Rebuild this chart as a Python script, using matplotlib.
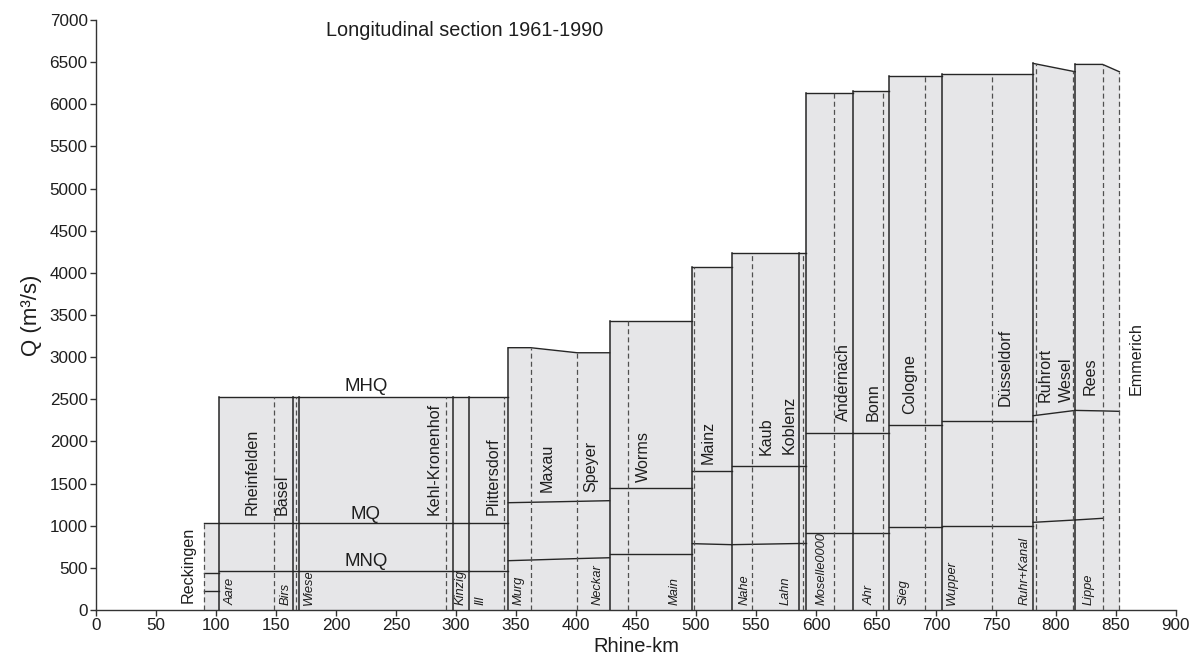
import numpy as np
import matplotlib
matplotlib.use('Agg')
import matplotlib.pyplot as plt

plt.rcParams['font.family'] = ['Liberation Sans', 'DejaVu Sans']

#------------------------ data: blocks between tributaries ------------------------
# Rhine-km breakpoints of each block and discharge (m3/s) read at those points
block_km = [[90, 102.2], [102.2, 164.4], [164.4, 169.4], [169.4, 297.2],
            [297.2, 310.8], [310.8, 343.6], [343.6, 362.2, 401, 428],
            [428, 497], [497, 529.7], [529.7, 586], [586, 592],
            [592, 630.6], [630.6, 660.8], [660.8, 705.2], [705.2, 781],
            [781, 816], [816, 838.9, 852.8]]
mhq = [[1036, 1036], [2530, 2530], [2530, 2530], [2530, 2530],
       [2530, 2530], [2530, 2530], [3112, 3112, 3052, 3052],
       [3432, 3432], [4069, 4069], [4235, 4235], [4235, 4235],
       [6134, 6134], [6155, 6155], [6340, 6340], [6363, 6363],
       [6485, 6386], [6473, 6473, 6386]]
mq = [[443, 443], [1036, 1036], [1036, 1036], [1036, 1036],
      [1036, 1036], [1036, 1036], [1273, 1278, 1289, 1297],
      [1443, 1443], [1649, 1649], [1712, 1712], [1712, 1712],
      [2105, 2105], [2105, 2105], [2200, 2200], [2243, 2243],
      [2305, 2368], [2368, 2362, 2357]]
mnq = [[222, 222], [466, 466], [466, 466], [466, 466],
       [466, 466], [466, 466], [585, 593, 610, 620],
       [668, 668], [787, 775], [775, 789], [789, 789],
       [913, 913], [913, 913], [979, 979], [995, 995],
       [1040, 1068], [1068, 1088, np.nan]]

# gauging stations (dashed lines) and their labels
gauge_km = [90, 148.6, 166.4, 291.7, 340.3, 362.2, 401, 443.3, 498.6, 546.9,
            589.5, 615, 656.1, 690.6, 746.7, 783.3, 814.2, 838.9, 852.8]
station_names = ['Reckingen', 'Rheinfelden', 'Basel', 'Kehl-Kronenhof', 'Plittersdorf',
                 'Maxau', 'Speyer', 'Worms', 'Mainz', 'Kaub', 'Koblenz', 'Andernach',
                 'Bonn', 'Cologne', 'Düsseldorf', 'Ruhrort', 'Wesel', 'Rees', 'Emmerich']
station_km = [76.5, 130, 155.3, 281.4, 331.1, 375.6, 412.2, 456.4, 510, 558.3, 578,
              622.8, 647.2, 678, 757.5, 790.8, 808.9, 828.3, 866.7]
station_q = [87, 1127, 1127, 1127, 1127, 1403, 1403, 1515, 1732, 1839, 1850,
             2242, 2242, 2330, 2425, 2472, 2472, 2554, 2554]

# tributaries
trib_names = ['Aare', 'Birs', 'Wiese', 'Kinzig', 'Ill', 'Murg', 'Neckar', 'Main',
              'Nahe', 'Lahn', 'Moselle0000', 'Ahr', 'Sieg', 'Wupper', 'Ruhr+Kanal', 'Lippe']
trib_km = [112, 157.8, 177.2, 303.9, 320.3, 352.5, 417.8, 482.2, 540.8, 574.4,
           604.4, 644.4, 672.8, 713.6, 774.2, 827.5]

#------------------------ plot ------------------------------
fill_c = '#e6e6e8'
line_c = '#262626'
dash_c = '#505050'
text_c = '#1e1e1e'

fig = plt.figure(figsize=(11.96, 6.58), dpi=100)
ax = fig.add_axes([96/1196, 48/658, 1080/1196, 590/658])

for k, h, m, n in zip(block_km, mhq, mq, mnq):
    ax.fill_between(k, 0, h, color=fill_c, lw=0, zorder=1)
    ax.plot(k, h, color=line_c, lw=1.0, zorder=3)
    ax.plot(k, m, color=line_c, lw=1.0, zorder=3)
    ax.plot(k, n, color=line_c, lw=1.0, zorder=3)

# solid lines where tributaries join
for i in range(len(block_km) - 1):
    x = block_km[i][-1]
    top = max(mhq[i][-1], mhq[i + 1][0])
    ax.plot([x, x], [0, top], color=line_c, lw=1.1, zorder=3)

# dashed gauge lines
km_all = np.concatenate(block_km)
mhq_all = np.concatenate(mhq)
for g in gauge_km:
    top = np.interp(g, km_all, mhq_all)
    ax.plot([g, g], [0, top], color=dash_c, lw=0.9, dashes=(4, 2.5), zorder=4)

for name, x, y in zip(station_names, station_km, station_q):
    ax.text(x, y, name, rotation=90, ha='center', va='bottom', fontsize=11.6,
            color=text_c, zorder=5)

for name, x in zip(trib_names, trib_km):
    ax.text(x, 55, name, rotation=90, ha='center', va='bottom', fontsize=9.3,
            style='italic', color=text_c, zorder=5)

ax.text(225, 2600, 'MHQ', ha='center', va='baseline', fontsize=13.4, color=text_c)
ax.text(225, 1080, 'MQ', ha='center', va='baseline', fontsize=13.4, color=text_c)
ax.text(225, 520, 'MNQ', ha='center', va='baseline', fontsize=13.4, color=text_c)

ax.text(307, 6880, 'Longitudinal section 1961-1990', ha='center', va='center',
        fontsize=14.3, color=text_c)

ax.set_xlim(0, 900)
ax.set_ylim(0, 7000)
ax.set_xticks(np.arange(0, 901, 50))
ax.set_yticks(np.arange(0, 7001, 500))
ax.spines['top'].set_visible(False)
ax.spines['right'].set_visible(False)
for s in ['left', 'bottom']:
    ax.spines[s].set_color('#333333')
    ax.spines[s].set_linewidth(1.0)
ax.tick_params(direction='out', length=4, width=1.0, colors='#333333',
               labelsize=12.3, labelcolor=text_c, pad=2)

ax.set_xlabel('Rhine-km', fontsize=14.5, color=text_c)
ax.set_ylabel('Q (m³/s)', fontsize=16, color=text_c)
ax.xaxis.set_label_coords(0.5, -0.046)
ax.yaxis.set_label_coords(-0.05, 0.5)

plt.savefig('out.png', dpi=100)
